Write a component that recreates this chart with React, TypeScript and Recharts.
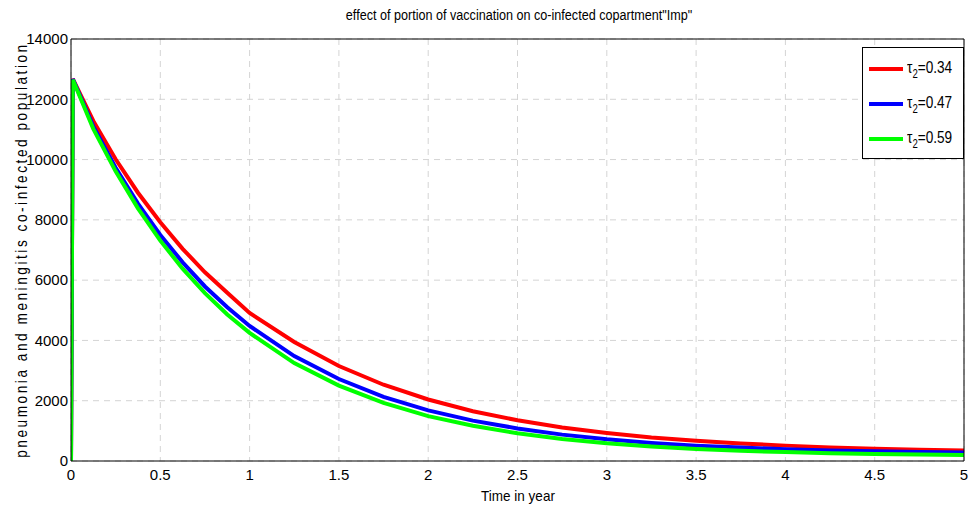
import { LineChart, Line, XAxis, YAxis, CartesianGrid, Legend } from 'recharts'

const FONT = '"Liberation Sans", Arial, sans-serif'

// time in years
const years = [0, 0.01, 0.125, 0.25, 0.375, 0.5, 0.625, 0.75, 0.875, 1, 1.25, 1.5, 1.75, 2, 2.25, 2.5, 2.75, 3, 3.25, 3.5, 3.75, 4, 4.25, 4.5, 4.75, 5]
// co-infected compartment for each vaccination portion
const tau034 = [0, 12680, 11280, 10010, 8900, 7920, 7040, 6260, 5580, 4910, 3950, 3150, 2530, 2040, 1650, 1350, 1110, 930, 780, 670, 580, 510, 450, 410, 370, 350]
const tau047 = [0, 12670, 11100, 9730, 8540, 7500, 6590, 5790, 5100, 4480, 3480, 2720, 2130, 1680, 1340, 1080, 875, 720, 600, 510, 445, 390, 350, 320, 300, 280]
const tau059 = [0, 12650, 11020, 9610, 8380, 7310, 6380, 5570, 4860, 4250, 3250, 2500, 1925, 1490, 1170, 920, 730, 590, 485, 400, 340, 295, 260, 235, 215, 200]

const xTicks = [0, 0.5, 1, 1.5, 2, 2.5, 3, 3.5, 4, 4.5, 5]
const yTicks = [0, 2000, 4000, 6000, 8000, 10000, 12000, 14000]

const series = [
  { key: 'a', tau: '0.34', color: '#ff0000', values: tau034 },
  { key: 'b', tau: '0.47', color: '#0000ff', values: tau047 },
  { key: 'c', tau: '0.59', color: '#00ff00', values: tau059 },
]

const data = years.map((t, i) => ({
  t,
  a: tau034[i],
  b: tau047[i],
  c: tau059[i],
}))

const tickStyle = { fill: '#000', fontSize: 15, fontFamily: FONT }

const LegendBox = () => (
  <div
    style={{
      width: 100,
      height: 110,
      border: '1px solid #000',
      background: '#fff',
      position: 'relative',
      fontFamily: FONT,
      fontSize: 17,
      color: '#000',
    }}
  >
    {series.map((s, i) => (
      <div
        key={s.key}
        style={{ position: 'absolute', left: 6, top: 10 + i * 35, display: 'flex', alignItems: 'center', height: 22 }}
      >
        <span style={{ display: 'inline-block', width: 34, height: 4, background: s.color, marginRight: 4 }} />
        <span style={{ whiteSpace: 'nowrap', display: 'inline-block', transform: 'scaleX(0.8)', transformOrigin: 'left center' }}>
          τ<sub style={{ fontSize: 12, verticalAlign: -5 }}>2</sub>={s.tau}
        </span>
      </div>
    ))}
  </div>
)

export default function App() {
  return (
    <div style={{ position: 'absolute', left: 0, top: 0, width: 974, height: 513, background: '#fff' }}>
      <div
        style={{
          position: 'absolute',
          top: 7,
          left: 519,
          transform: 'translateX(-50%) scaleX(0.9)',
          whiteSpace: 'nowrap',
          fontFamily: FONT,
          fontSize: 14,
          color: '#000',
        }}
      >
        effect of portion of vaccination on co-infected copartment"Imp"
      </div>
      <div
        style={{
          position: 'absolute',
          left: 22,
          top: 250,
          transform: 'translate(-50%, -50%) rotate(-90deg) scaleX(0.85)',
          whiteSpace: 'nowrap',
          fontFamily: FONT,
          fontSize: 16,
          letterSpacing: 3,
          color: '#000',
        }}
      >
        pneumonia and meningitis co-infected population
      </div>
      <div
        style={{
          position: 'absolute',
          top: 487,
          left: 518,
          transform: 'translateX(-50%) scaleX(0.9)',
          whiteSpace: 'nowrap',
          fontFamily: FONT,
          fontSize: 15,
          color: '#000',
        }}
      >
        Time in year
      </div>
      <LineChart width={974} height={513} data={data} margin={{ top: 39, right: 10, bottom: 22, left: 0 }}>
        <CartesianGrid stroke="#d4d4d4" strokeDasharray="6 5" />
        <XAxis
          dataKey="t"
          type="number"
          domain={[0, 5]}
          ticks={xTicks}
          height={30}
          tickSize={0}
          tickMargin={8}
          tickLine={false}
          axisLine={{ stroke: '#000' }}
          tick={tickStyle}
          allowDataOverflow
        />
        <XAxis xAxisId="bin" dataKey="t" type="number" domain={[0, 5]} ticks={xTicks} mirror tickSize={5} tick={false} axisLine={false} tickLine={{ stroke: '#000' }} />
        <XAxis xAxisId="top" orientation="top" dataKey="t" type="number" domain={[0, 5]} ticks={xTicks} mirror tickSize={5} tick={false} axisLine={{ stroke: '#000' }} tickLine={{ stroke: '#000' }} />
        <YAxis
          type="number"
          domain={[0, 14000]}
          ticks={yTicks}
          width={71}
          tickSize={0}
          tickMargin={3}
          tickLine={false}
          axisLine={{ stroke: '#000' }}
          tick={tickStyle}
          allowDataOverflow
        />
        <YAxis yAxisId="lin" type="number" domain={[0, 14000]} ticks={yTicks} mirror tickSize={5} tick={false} axisLine={false} tickLine={{ stroke: '#000' }} />
        <YAxis yAxisId="right" orientation="right" type="number" domain={[0, 14000]} ticks={yTicks} mirror tickSize={5} tick={false} axisLine={{ stroke: '#000' }} tickLine={{ stroke: '#000' }} />
        {series.map((s) => (
          <Line
            key={s.key}
            type="linear"
            dataKey={s.key}
            stroke={s.color}
            strokeWidth={4}
            dot={false}
            isAnimationActive={false}
          />
        ))}
        <Legend
          layout="horizontal"
          verticalAlign="middle"
          align="center"
          content={() => <LegendBox />}
          wrapperStyle={{ top: 47, left: 862, width: 102, height: 112 }}
        />
      </LineChart>
    </div>
  )
}
